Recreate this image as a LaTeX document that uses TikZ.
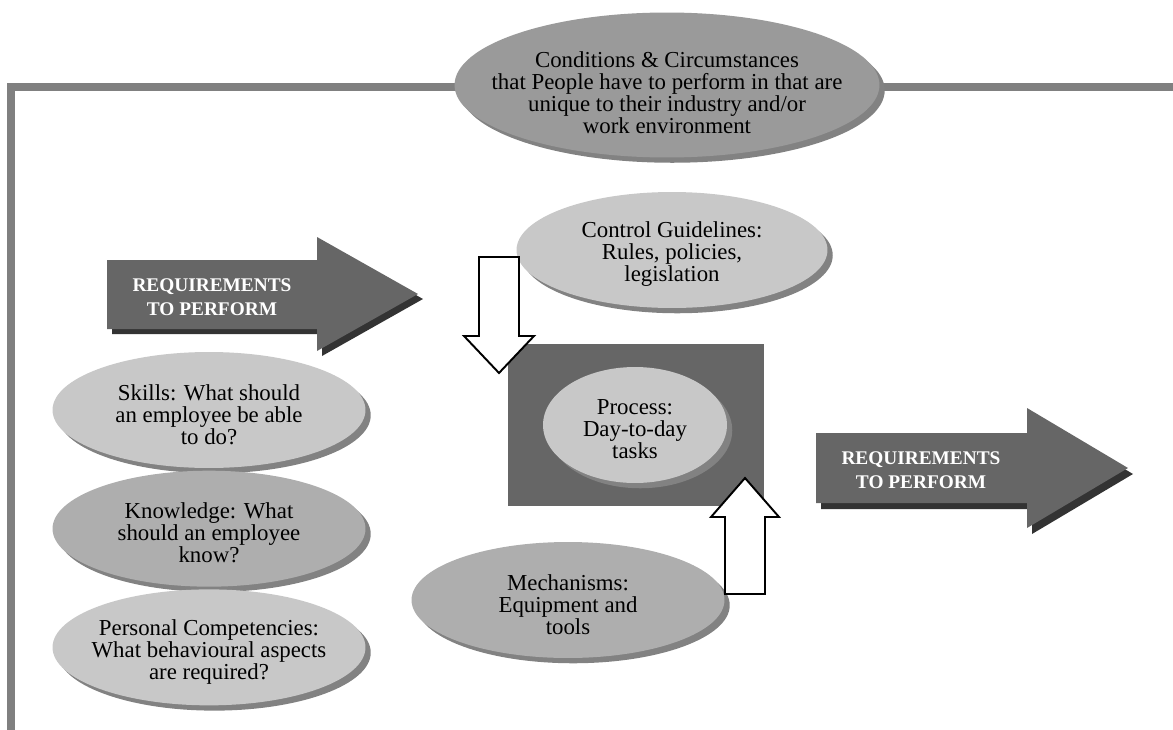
\documentclass[tikz,border=0pt]{standalone}
\usepackage{fontspec}
\setmainfont{Liberation Serif}
\usepackage{xcolor}
\usepackage{tikz}
\usetikzlibrary{shapes,positioning,shadows}

\definecolor{framegray}{HTML}{808080}
\definecolor{ovallight}{HTML}{C8C8C8}
\definecolor{ovalmid}{HTML}{AEAEAE}
\definecolor{ovaldark}{HTML}{9A9A9A}
\definecolor{ovalshade}{HTML}{828282}
\definecolor{blockgray}{HTML}{666666}
\definecolor{blockshade}{HTML}{333333}

\begin{document}
\begin{tikzpicture}[
    x=0.02cm, y=-0.02cm,
    oval/.style={ellipse, inner sep=0pt, minimum width=6.26cm, minimum height=2.32cm, drop shadow={shadow xshift=3pt, shadow yshift=-3pt, fill=ovalshade, opacity=1}},
    lightoval/.style={oval, fill=ovallight},
    midoval/.style={oval, fill=ovalmid},
    ovaltext/.style={align=center, inner sep=0pt, yshift=-2.5pt, font=\fontsize{13}{12.6}\selectfont},
    reqtext/.style={align=center, inner sep=0pt, text=white, font=\fontsize{11}{14}\selectfont\bfseries},
    processbox/.style={rectangle, fill=blockgray, inner sep=0pt, minimum width=5.14cm, minimum height=3.26cm},
    hollowarrow/.style={draw=black, fill=white, line width=1.1pt, line join=miter},
    outerframe/.style={draw=framegray, line width=4.5pt, line join=miter}
]
    \useasboundingbox (0,0) rectangle (1173,730);

    % Outer frame
    \draw[outerframe] (11,730) -- (11,87) -- (1173,87);

    % Conditions
    \node[oval, fill=ovaldark, minimum width=8.5cm, minimum height=2.9cm] (conditions) at (667,85) {};
    \node[ovaltext, yshift=-2pt] (conditions-txt) at (conditions) {Conditions \& Circumstances\\that People have to perform in that are\\unique to their industry and/or\\work environment};

    % Requirements in
    \fill[blockshade] (112,266) -- (322,266) -- (322,242) -- (423,299) -- (322,356) -- (322,334) -- (112,334) -- cycle;
    \fill[blockgray] (107,260) -- (317,260) -- (317,237) -- (418,294) -- (317,351) -- (317,329) -- (107,329) -- cycle;
    \node[reqtext] (req-in) at (212,297) {REQUIREMENTS\\TO PERFORM};

    % Skills, knowledge, competencies
    \node[lightoval] (skills) at (209,410) {};
    \node[midoval, below=0.04cm of skills] (knowledge) {};
    \node[lightoval, below=0.04cm of knowledge] (competencies) {};
    \node[ovaltext] (skills-txt) at (skills) {Skills: What should\\an employee be able\\to do?};
    \node[ovaltext] (knowledge-txt) at (knowledge) {Knowledge: What\\should an employee\\know?};
    \node[ovaltext] (competencies-txt) at (competencies) {Personal Competencies:\\What behavioural aspects\\are required?};

    % Control guidelines
    \node[lightoval, minimum width=6.22cm] (control) at (672,250) {};
    \node[ovaltext] (control-txt) at (control) {Control Guidelines:\\Rules, policies,\\legislation};

    % Process
    \node[processbox] (procbox) at (636,425) {};
    \node[lightoval, minimum width=3.68cm] (process) at (635,425) {};
    \node[ovaltext] (process-txt) at (process) {Process:\\Day-to-day\\tasks};

    % Mechanisms
    \node[midoval] (mechanisms) at (568,600) {};
    \node[ovaltext] (mechanisms-txt) at (mechanisms) {Mechanisms:\\Equipment and\\tools};

    % Inputs to the process
    \draw[hollowarrow] (479,257) -- (519,257) -- (519,336) -- (534,336) -- (499,373) -- (464,336) -- (479,336) -- cycle;
    \draw[hollowarrow] (725,594) -- (765,594) -- (765,517) -- (779,517) -- (745,478) -- (711,517) -- (725,517) -- cycle;

    % Requirements out
    \fill[blockshade] (821,439) -- (1032,439) -- (1032,414) -- (1133,474) -- (1032,534) -- (1032,509) -- (821,509) -- cycle;
    \fill[blockgray] (816,433) -- (1027,433) -- (1027,408) -- (1128,468) -- (1027,528) -- (1027,503) -- (816,503) -- cycle;
    \node[reqtext] (req-out) at (921,470) {REQUIREMENTS\\TO PERFORM};
\end{tikzpicture}
\end{document}
